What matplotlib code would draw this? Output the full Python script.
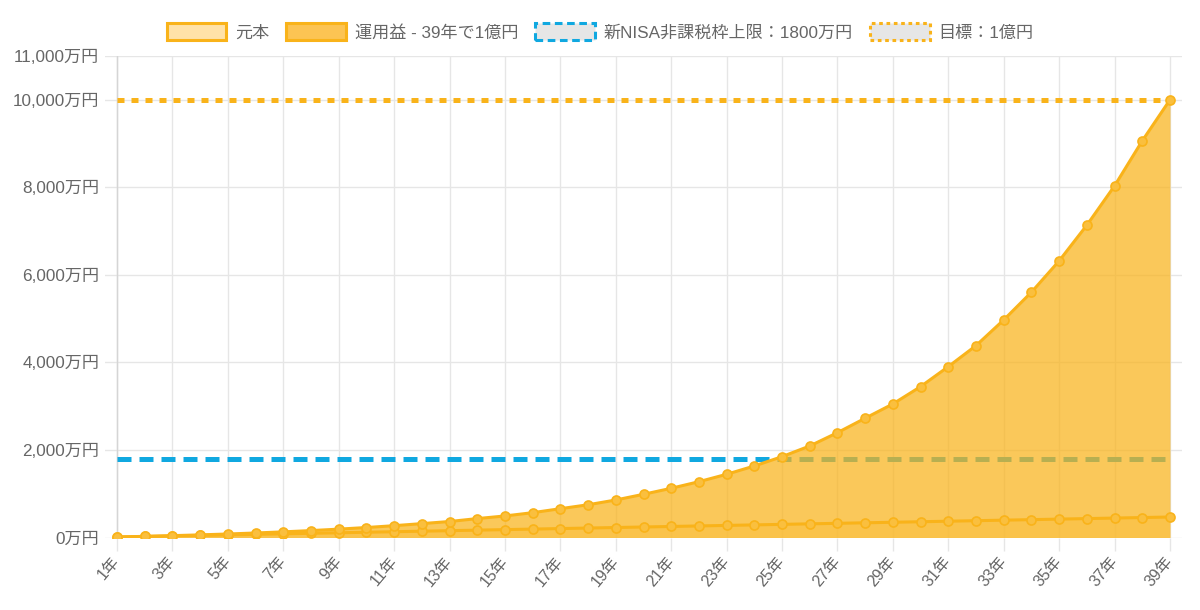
import matplotlib
matplotlib.use('Agg')
import matplotlib.pyplot as plt
from matplotlib.patches import Patch
from matplotlib.ticker import FuncFormatter

plt.rcParams['font.family'] = ['Liberation Sans', 'Noto Sans CJK JP', 'DejaVu Sans']

years = list(range(1, 40))
year_labels = [f'{y}年' for y in years]
# 元本（万円）
principal = [12 * y for y in years]
# 運用益込みの評価額（万円）
total = [12, 26, 42, 60, 80, 103, 129, 158, 191, 228, 270, 317, 365, 432, 492,
         567, 658, 748, 857, 987, 1124, 1275, 1444, 1634, 1847, 2091, 2395, 2725,
         3051, 3447, 3904, 4384, 4971, 5604, 6320, 7136, 8034, 9063, 10000]
nisa_limit = 1800
goal = 10000
yticks = [0, 2000, 4000, 6000, 8000, 10000, 11000]

orange = '#F9B31A'
blue = '#10A8E0'
grid_c = '#E6E6E6'
text_c = '#666666'

fig = plt.figure(figsize=(12, 6.1), dpi=100)
ax = fig.add_axes([105 / 1200, 1 - 537.5 / 610, (1182 - 105) / 1200, (537.5 - 56) / 610])

step = (1170 - 117) / 38
ax.set_xlim(1 - 12 / step, 39 + 12 / step)
ax.set_ylim(0, 11000)

# 目標・NISA上限
ax.plot([1, 39], [nisa_limit, nisa_limit], color=blue, lw=3.6,
        dashes=(2.8, 1.6), zorder=2, solid_capstyle='butt')
ax.plot([1, 39], [goal, goal], color=orange, lw=3.6,
        dashes=(1.4, 1.4), zorder=5)

# 元本
ax.fill_between(years, principal, 0, color='#FFE2A8', alpha=0.6, lw=0, zorder=3)
# 運用益
ax.fill_between(years, total, 0, color=orange, alpha=0.72, lw=0, zorder=4)
ax.plot(years, principal, color=orange, lw=2.2, marker='o', ms=6.5,
        mfc='#FABF3E', mec=orange, mew=1.2, zorder=6)
ax.plot(years, total, color=orange, lw=2.2, marker='o', ms=6.5,
        mfc='#FABF3E', mec=orange, mew=1.2, zorder=6)

ax.set_xticks(years[::2])
ax.set_xticklabels(year_labels[::2], rotation=50, ha='right', va='center',
                   rotation_mode='anchor')
ax.set_yticks(yticks)
ax.yaxis.set_major_formatter(FuncFormatter(lambda v, p: f'{int(v):,}万円'))

ax.grid(True, color=grid_c, lw=1, zorder=0)
ax.set_axisbelow(True)
for s in ax.spines.values():
    s.set_visible(False)
ax.axvline(1, color='#D5D5D5', lw=1, zorder=1)
ax.tick_params(axis='x', length=9, color=grid_c, width=1, pad=6,
               labelsize=11.5, labelcolor=text_c)
ax.tick_params(axis='y', length=0, pad=4, labelsize=12.3, labelcolor=text_c)

handles = [
    Patch(facecolor='#FFE2A8', edgecolor=orange, lw=2.2),
    Patch(facecolor='#FCC453', edgecolor=orange, lw=2.2),
    Patch(facecolor='#E6E6E6', edgecolor=blue, lw=2.2, linestyle=(0, (2.5, 1.5))),
    Patch(facecolor='#E6E6E6', edgecolor=orange, lw=2.2, linestyle=(0, (1.2, 1.2))),
]
labels = ['元本', '運用益 - 39年で1億円', '新NISA非課税枠上限：1800万円', '目標：1億円']
leg = fig.legend(handles, labels, loc='center', bbox_to_anchor=(0.5, 1 - 32 / 610),
                 ncol=4, frameon=False, fontsize=12.3, handlelength=3.5,
                 handleheight=1.15, handletextpad=0.5, columnspacing=1.0)
for t in leg.get_texts():
    t.set_color(text_c)

fig.savefig('out.png', dpi=100)
